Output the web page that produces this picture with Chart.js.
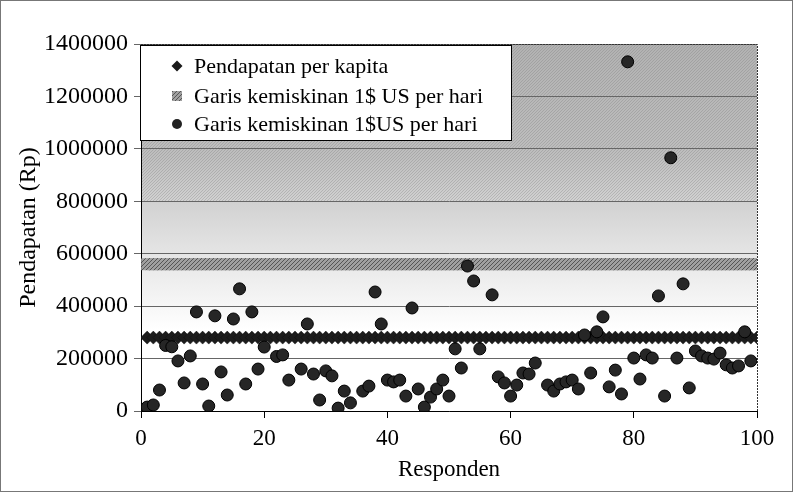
<!DOCTYPE html>
<html>
<head>
<meta charset="utf-8">
<script src="https://cdn.jsdelivr.net/npm/chart.js@4.4.0/dist/chart.umd.min.js"></script>
<style>
  html, body { margin: 0; background: #fff; }
  #wrap { width: 793px; height: 492px; }
</style>
</head>
<body>
<div id="wrap"><canvas id="chart"></canvas></div>
<script>
// Respondent numbers (x) and their income (y)
const respondX = [1, 2, 3, 4, 5, 6, 7, 8, 9, 10, 11, 12, 13, 14, 15, 16, 17, 18, 19, 20,
  22, 23, 24, 26, 27, 28, 29, 30, 31, 32, 33, 34, 36, 37, 38, 39, 40, 41, 42, 43,
  44, 45, 46, 47, 48, 49, 50, 51, 52, 53, 54, 55, 57, 58, 59, 60, 61, 62, 63, 64,
  66, 67, 68, 69, 70, 71, 72, 73, 74, 75, 76, 77, 78, 79, 80, 81, 82, 83, 84, 85,
  86, 87, 88, 89, 90, 91, 92, 93, 94, 95, 96, 97, 98, 99];
const incomeY = [15000, 23000, 80000, 250000, 245000, 191000, 107000, 210000, 378000, 103000,
  19000, 363000, 149000, 61000, 351000, 466000, 103000, 378000, 160000, 244000,
  208000, 214000, 118000, 160000, 332000, 141000, 42000, 153000, 134000, 11000,
  76000, 31000, 76000, 95000, 454000, 332000, 118000, 111000, 118000, 57000,
  393000, 84000, 15000, 53000, 84000, 118000, 57000, 237000, 164000, 553000,
  496000, 237000, 443000, 130000, 107000, 57000, 99000, 145000, 141000, 183000,
  99000, 76000, 103000, 111000, 118000, 84000, 290000, 145000, 302000, 359000,
  92000, 156000, 65000, 1332000, 202000, 122000, 214000, 202000, 439000, 57000,
  966000, 202000, 485000, 88000, 229000, 210000, 202000, 198000, 221000, 176000,
  164000, 172000, 302000, 191000];

// Responden 1..100 for the two reference lines
const responden = Array.from({ length: 100 }, (_, i) => i + 1);
const pendapatanPerKapita = 280000;
const garisKemiskinan = 560000;

const yTicks = [0, 200000, 400000, 600000, 800000, 1000000, 1200000, 1400000];
const xTicks = [0, 20, 40, 60, 80, 100];

const SERIF = '"Liberation Serif", "Times New Roman", serif';

// diagonal hatch pattern
function makeHatch(bg, fg, size) {
  const c = document.createElement('canvas');
  c.width = c.height = size;
  const x = c.getContext('2d');
  x.fillStyle = bg;
  x.fillRect(0, 0, size, size);
  x.strokeStyle = fg;
  x.lineWidth = 1;
  x.beginPath();
  x.moveTo(0, size); x.lineTo(size, 0);
  x.moveTo(-1, 1); x.lineTo(1, -1);
  x.moveTo(size - 1, size + 1); x.lineTo(size + 1, size - 1);
  x.stroke();
  return x.createPattern(c, 'repeat');
}

const bandFill = makeHatch('#a0a0a0', '#555', 4);

// plot background: grey hatched at the top fading to white
const plotBackground = {
  id: 'plotBackground',
  beforeDraw(chart) {
    const { ctx, chartArea: a } = chart;
    ctx.save();
    ctx.fillStyle = '#fff';
    ctx.fillRect(0, 0, chart.width, chart.height);
    ctx.strokeStyle = '#777';
    ctx.strokeRect(0.5, 0.5, chart.width - 1, chart.height - 1);

    const g = ctx.createLinearGradient(0, a.top, 0, a.bottom);
    g.addColorStop(0, '#b2b2b2');
    g.addColorStop(0.3, '#bebebe');
    g.addColorStop(0.42, '#d0d0d0');
    g.addColorStop(0.58, '#e6e6e6');
    g.addColorStop(0.7, '#f5f5f5');
    g.addColorStop(0.78, '#ffffff');
    ctx.fillStyle = g;
    ctx.fillRect(a.left, a.top, a.right - a.left, a.bottom - a.top);

    const yScale = chart.scales.y;
    const y800 = yScale.getPixelForValue(800000);
    ctx.globalAlpha = 0.3;
    ctx.fillStyle = makeHatch('rgba(0,0,0,0)', '#777', 3);
    ctx.fillRect(a.left, a.top, a.right - a.left, y800 - a.top);
    ctx.restore();
  },
  afterDraw(chart) {
    const { ctx, chartArea: a } = chart;
    ctx.save();
    ctx.strokeStyle = '#333';
    ctx.lineWidth = 1;
    ctx.setLineDash([2, 1]);
    ctx.beginPath();
    ctx.moveTo(a.left, a.top + 0.5);
    ctx.lineTo(a.right + 0.5, a.top + 0.5);
    ctx.lineTo(a.right + 0.5, a.bottom);
    ctx.stroke();
    ctx.restore();
  }
};

// legend box drawn inside the plot area, top-left
const legendBox = {
  id: 'legendBox',
  afterDraw(chart) {
    const { ctx, chartArea: a } = chart;
    const left = a.left - 1, top = a.top + 1, w = 371, h = 95;
    ctx.save();
    ctx.fillStyle = '#fff';
    ctx.fillRect(left, top, w, h);
    ctx.strokeStyle = '#000';
    ctx.lineWidth = 1;
    ctx.strokeRect(left + 0.5, top + 0.5, w, h);

    ctx.font = '22px ' + SERIF;
    ctx.textBaseline = 'middle';
    const mx = left + 37, tx = left + 54;
    const rows = [top + 21, top + 51, top + 79];

    // diamond
    ctx.fillStyle = '#1a1a1a';
    ctx.beginPath();
    ctx.moveTo(mx, rows[0] - 5.5); ctx.lineTo(mx + 5.5, rows[0]);
    ctx.lineTo(mx, rows[0] + 5.5); ctx.lineTo(mx - 5.5, rows[0]);
    ctx.closePath(); ctx.fill();
    // hatched square
    ctx.fillStyle = bandFill;
    ctx.fillRect(mx - 5, rows[1] - 5, 10, 10);
    // circle
    ctx.fillStyle = '#222';
    ctx.beginPath();
    ctx.arc(mx, rows[2], 5, 0, Math.PI * 2);
    ctx.fill();

    ctx.fillStyle = '#000';
    chart.data.datasets.forEach((ds, i) => {
      ctx.fillText(ds.label, tx, rows[i] + 1);
    });
    ctx.restore();
  }
};

const ctx = document.getElementById('chart').getContext('2d');

new Chart(ctx, {
  type: 'scatter',
  data: {
    datasets: [
      {
        label: 'Pendapatan per kapita',
        data: responden.map(r => ({ x: r, y: pendapatanPerKapita })),
        pointStyle: 'rectRot',
        pointRadius: 6.5,
        backgroundColor: '#1c1c1c',
        borderColor: '#111',
        borderWidth: 0.5,
        order: 2
      },
      {
        label: 'Garis kemiskinan 1$ US per hari',
        data: responden.map(r => ({ x: r, y: garisKemiskinan })),
        pointStyle: 'rect',
        pointRadius: 8.5,
        backgroundColor: bandFill,
        borderWidth: 0,
        order: 1
      },
      {
        label: 'Garis kemiskinan 1$US per hari',
        data: respondX.map((x, i) => ({ x: x, y: incomeY[i] })),
        pointStyle: 'circle',
        pointRadius: 6,
        backgroundColor: '#262626',
        borderColor: '#000',
        borderWidth: 1,
        order: 0
      }
    ]
  },
  options: {
    responsive: true,
    maintainAspectRatio: false,
    animation: false,
    layout: { padding: { left: 14, top: 44, right: 36, bottom: 8 } },
    plugins: {
      legend: { display: false },
      tooltip: { enabled: false }
    },
    scales: {
      x: {
        type: 'linear',
        min: 0,
        max: 100,
        afterBuildTicks: scale => { scale.ticks = xTicks.map(v => ({ value: v })); },
        afterFit: scale => { scale.height = 492 - 411 - 8; },
        ticks: { color: '#000', font: { family: SERIF, size: 23 }, padding: 7 },
        grid: { drawOnChartArea: false, tickLength: 7, color: '#000' },
        border: { color: '#000' },
        title: {
          display: true,
          text: 'Responden',
          color: '#000',
          font: { family: SERIF, size: 23 },
          padding: { top: 0, bottom: 0 }
        }
      },
      y: {
        min: 0,
        max: 1400000,
        afterBuildTicks: scale => { scale.ticks = yTicks.map(v => ({ value: v })); },
        afterFit: scale => { scale.width = 141 - 14; },
        ticks: {
          color: '#000',
          font: { family: SERIF, size: 24 },
          padding: 6,
          callback: v => String(v)
        },
        grid: { color: '#666', tickLength: 7 },
        border: { color: '#000' },
        title: {
          display: true,
          text: 'Pendapatan (Rp)',
          color: '#000',
          font: { family: SERIF, size: 24 },
          padding: { top: 0, bottom: 0 }
        }
      }
    }
  },
  plugins: [plotBackground, legendBox]
});
</script>
</body>
</html>
